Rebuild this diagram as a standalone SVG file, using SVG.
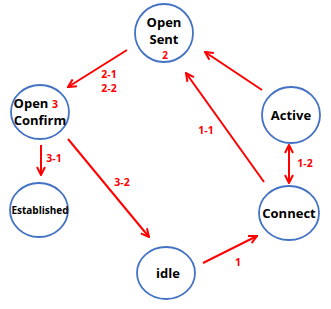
<svg xmlns="http://www.w3.org/2000/svg" width="331" height="309" viewBox="0 0 331 309">
<defs>
<style>
.n{fill:#fff;stroke:#4472C4;stroke-width:1.8}
.t{font-family:"Open Sans","Noto Sans",sans-serif;font-weight:bold;font-size:13px;fill:#000;text-anchor:middle;dominant-baseline:central}
.r{font-family:"Open Sans","Noto Sans",sans-serif;font-weight:bold;font-size:10.5px;fill:#F00;text-anchor:middle;dominant-baseline:central}
.c{stroke:#F00;stroke-width:2;fill:none}
</style>
<marker id="ah" viewBox="0 0 10 10" refX="9" refY="5" markerWidth="10" markerHeight="10" markerUnits="userSpaceOnUse" orient="auto-start-reverse">
<path d="M1,1 L9,5 L1,9" fill="none" stroke="#F00" stroke-width="2"/>
</marker>
</defs>
<rect width="331" height="309" fill="#fff"/>
<g id="connectors">
<line class="c" x1="127" y1="50" x2="68" y2="87" marker-end="url(#ah)"/>
<line class="c" x1="262" y1="90" x2="205" y2="52" marker-end="url(#ah)"/>
<line class="c" x1="264" y1="182" x2="186" y2="73" marker-end="url(#ah)"/>
<line class="c" x1="289" y1="145" x2="289" y2="183" marker-start="url(#ah)" marker-end="url(#ah)"/>
<line class="c" x1="41" y1="145" x2="41" y2="175" marker-end="url(#ah)"/>
<line class="c" x1="68" y1="139" x2="149" y2="237" marker-end="url(#ah)"/>
<line class="c" x1="203" y1="263" x2="257" y2="236" marker-end="url(#ah)"/>
<text class="r" x="109" y="74">2-1</text>
<text class="r" x="109" y="88">2-2</text>
<text class="r" x="206" y="130">1-1</text>
<text class="r" x="305" y="163">1-2</text>
<text class="r" x="54" y="158">3-1</text>
<text class="r" x="122" y="182">3-2</text>
<text class="r" x="238" y="262">1</text>
</g>
<g id="open-sent">
<ellipse class="n" cx="164" cy="33" rx="29" ry="29"/>
<text class="t" x="164" y="22">Open</text>
<text class="t" x="164" y="39">Sent</text>
<text class="r" x="165" y="55" style="font-size:10px">2</text>
</g>
<g id="open-confirm">
<ellipse class="n" cx="40" cy="112" rx="29" ry="27"/>
<text class="t" x="31" y="103">Open</text>
<text class="r" x="55" y="104">3</text>
<text class="t" x="40" y="120">Confirm</text>
</g>
<g id="established">
<ellipse class="n" cx="39" cy="210" rx="29" ry="27"/>
<text class="t" x="40" y="210" style="font-size:10px">Established</text>
</g>
<g id="active">
<ellipse class="n" cx="291" cy="115" rx="29" ry="28"/>
<text class="t" x="291" y="115">Active</text>
</g>
<g id="connect">
<ellipse class="n" cx="289" cy="213" rx="30" ry="27"/>
<text class="t" x="289" y="213">Connect</text>
</g>
<g id="idle">
<ellipse class="n" cx="166" cy="273" rx="29" ry="26"/>
<text class="t" x="168" y="273">idle</text>
</g>
</svg>
